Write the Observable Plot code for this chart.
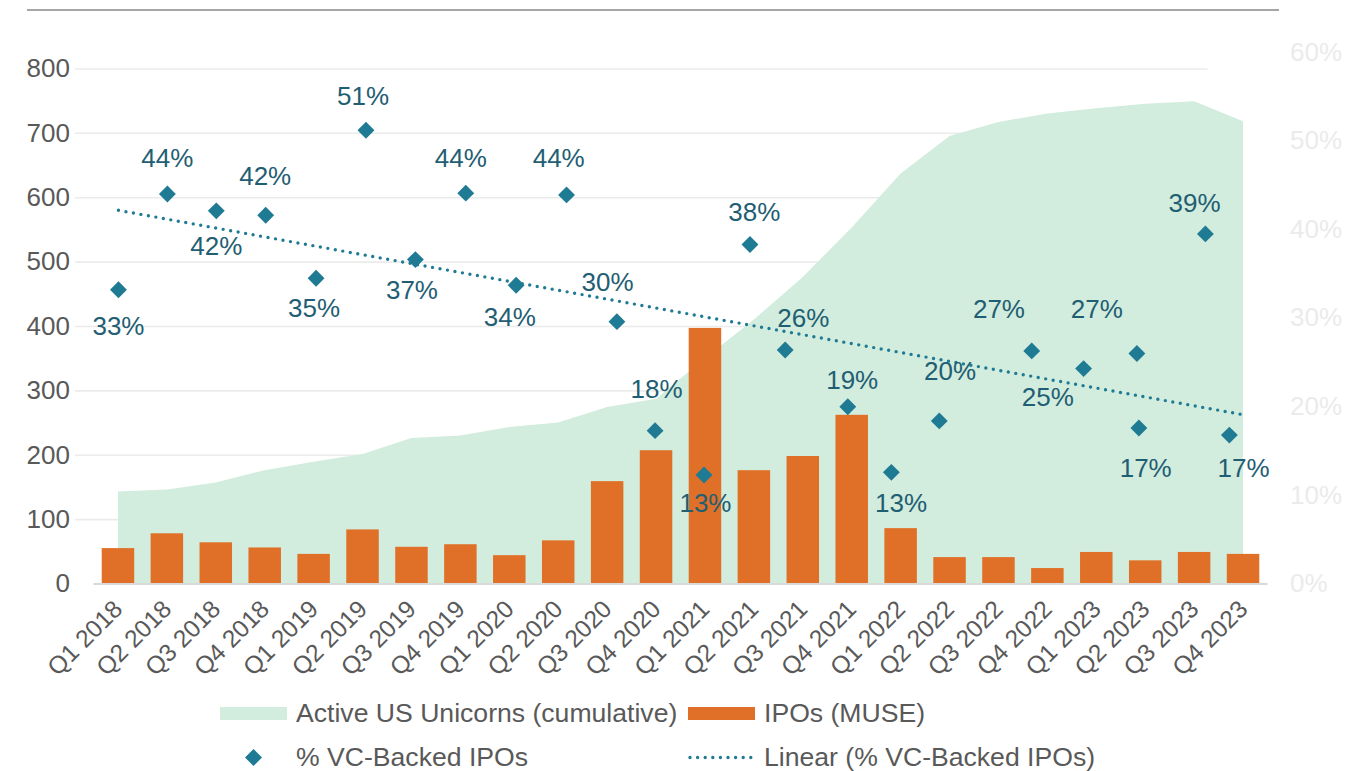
<!DOCTYPE html>
<html><head><meta charset="utf-8">
<script src="https://cdn.jsdelivr.net/npm/d3@7"></script>
<script src="https://cdn.jsdelivr.net/npm/@observablehq/plot@0.6"></script>
<style>
html,body{margin:0;padding:0;background:#fff;}
#wrap{position:relative;width:1372px;height:771px;font-family:"Liberation Sans",Arial,sans-serif;overflow:hidden;}
#chart{position:absolute;left:0;top:0;}
#topline{position:absolute;left:27px;top:9px;width:1252px;height:2px;background:#a6a6a6;}
.leg{position:absolute;display:flex;align-items:center;height:30px;font-size:26.6px;color:#595959;white-space:nowrap;}
.sw{width:67px;height:13px;margin-right:9px;flex:none;}
.ic{width:67px;height:17px;margin-right:9px;flex:none;display:block;}
</style></head><body>
<div id="wrap"><div id="chart"></div><div id="topline"></div><div id="legend"></div></div>
<script>
// ---- data ----
const quarters = ["Q1 2018","Q2 2018","Q3 2018","Q4 2018","Q1 2019","Q2 2019","Q3 2019","Q4 2019",
  "Q1 2020","Q2 2020","Q3 2020","Q4 2020","Q1 2021","Q2 2021","Q3 2021","Q4 2021",
  "Q1 2022","Q2 2022","Q3 2022","Q4 2022","Q1 2023","Q2 2023","Q3 2023","Q4 2023"];
const unicorns = [143,146,157,176,189,201,226,230,243,250,274,287,350,410,476,553,637,695,717,730,738,745,749,718];
const ipos = [55,78,64,56,46,84,57,61,44,67,159,207,397,176,198,262,86,41,41,24,49,36,49,46];
const vcShare = [33,44,42,42,35,51,37,44,34,44,30,18,13,38,26,19,13,20,27,25,27,17,39,17];
// the diamond markers of "% VC-Backed IPOs" (x in quarter units, y in %)
const markerX = [0,1,2,3.01,4.04,5.06,6.07,7.1,8.13,9.16,10.19,10.97,11.97,12.91,13.63,14.91,15.8,16.78,18.67,19.73,20.82,20.86,22.22,22.71];
const markerShare = [33.2,44.0,42.1,41.6,34.5,51.2,36.6,44.1,33.7,43.9,29.6,17.3,12.3,38.3,26.4,20.0,12.6,18.4,26.3,24.3,26.0,17.6,39.5,16.8];
const leftTicks = [0,100,200,300,400,500,600,700,800];
const rightTicks = [0,10,20,30,40,50,60];
const labelsBelow = ["Q1 2018","Q3 2018","Q1 2019","Q3 2019","Q1 2020","Q1 2021","Q1 2022","Q4 2022","Q2 2023","Q4 2023"];

// ---- chart ----
const yTop = 826, pctTop = 60, k = yTop / pctTop;
const rows = quarters.map((q, i) => ({q, i, unicorns: unicorns[i], ipos: ipos[i], share: vcShare[i], below: labelsBelow.includes(q)}));
const markers = markerX.map((x, i) => ({x, share: markerShare[i]}));
const teal = "#1f7a94", labelTeal = "#1f5e73", gray = "#595959";

const chart = Plot.plot({
  width: 1372, height: 690,
  marginLeft: 93.5, marginRight: 104.5, marginTop: 51.7, marginBottom: 106.5,
  style: {fontFamily: "'Liberation Sans', Arial, sans-serif", background: "transparent", overflow: "visible"},
  x: {type: "linear", domain: [-0.5, 23.5]},
  y: {domain: [0, yTop]},
  marks: [
    Plot.gridY(leftTicks.slice(1), {stroke: "#ebebeb", strokeOpacity: 1, strokeWidth: 1.6, insetLeft: -18.5, insetRight: 60}),
    Plot.areaY(rows, {x: "i", y: "unicorns", fill: "#d2ecdd"}),
    Plot.rectY(rows, {x1: d => d.i - 0.332, x2: d => d.i + 0.332, y: "ipos", fill: "#e07027"}),
    Plot.ruleY([0], {stroke: "#d9d9d9", strokeWidth: 2}),
    Plot.linearRegressionY(rows, {x: "i", y: d => d.share * k, stroke: teal, strokeWidth: 3.4, strokeDasharray: "0 7.6", strokeLinecap: "round", ci: 0}),
    Plot.dot(markers, {x: "x", y: d => d.share * k, symbol: "diamond2", r: 7.6, fill: teal}),
    Plot.text(rows.filter(d => !d.below), {x: "i", y: d => d.share * k, text: d => d.share + "%", dy: -35, fill: labelTeal, fontSize: 26}),
    Plot.text(rows.filter(d => d.below), {x: "i", y: d => d.share * k, text: d => d.share + "%", dy: 35, fill: labelTeal, fontSize: 26}),
    Plot.axisY(leftTicks, {anchor: "left", tickSize: 0, tickPadding: 24, fontSize: 26, color: gray, label: null}),
    Plot.axisY(rightTicks.map(p => p * k), {anchor: "right", tickSize: 0, tickPadding: 22, fontSize: 26, color: "#ebebeb", tickFormat: d => Math.round(d / k) + "%", label: null}),
    Plot.axisX(d3.range(quarters.length), {tickFormat: i => quarters[i], tickRotate: -45, tickSize: 0, tickPadding: 21, fontSize: 24.5, color: gray, label: null})
  ]
});
document.getElementById("chart").appendChild(chart);

// ---- legend ----
const legendItems = [
  {label: "Active US Unicorns (cumulative)", kind: "area", left: 220, top: 698},
  {label: "IPOs (MUSE)", kind: "bar", left: 688, top: 698},
  {label: "% VC-Backed IPOs", kind: "dot", left: 220, top: 742},
  {label: "Linear (% VC-Backed IPOs)", kind: "trend", left: 688, top: 742}
];
const legend = document.getElementById("legend");
for (const it of legendItems) {
  const d = document.createElement("div");
  d.className = "leg";
  d.style.left = it.left + "px"; d.style.top = it.top + "px";
  let icon;
  if (it.kind === "area") icon = `<div class="sw" style="background:#d2ecdd"></div>`;
  else if (it.kind === "bar") icon = `<div class="sw" style="background:#e07027"></div>`;
  else if (it.kind === "dot") icon = `<svg class="ic" viewBox="0 0 67 17"><path d="M33.5 0 L42 8.5 L33.5 17 L25 8.5 Z" fill="${teal}"/></svg>`;
  else icon = `<svg class="ic" viewBox="0 0 67 17"><line x1="2" x2="66" y1="8.5" y2="8.5" stroke="${teal}" stroke-width="3.4" stroke-dasharray="0 7.6" stroke-linecap="round"/></svg>`;
  d.innerHTML = icon + `<span>${it.label}</span>`;
  legend.appendChild(d);
}
</script>
</body></html>
